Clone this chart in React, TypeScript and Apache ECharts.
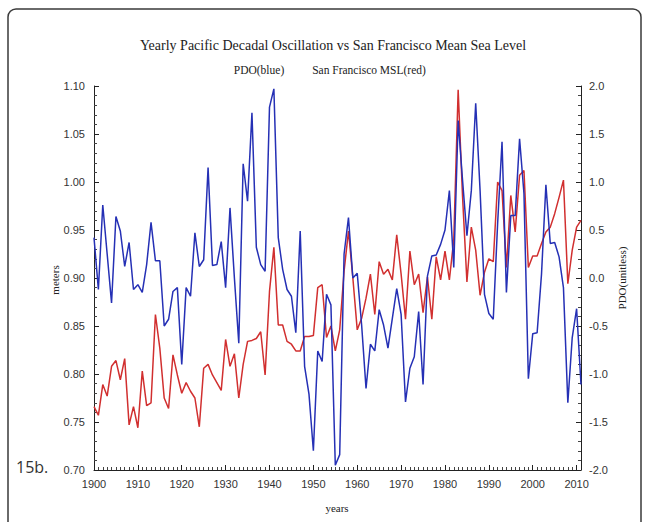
import React, { useEffect, useRef } from "react";
import * as echarts from "echarts";

// Years 1900–2011
const years: number[] = Array.from({ length: 112 }, (_, i) => 1900 + i);

// San Francisco yearly mean sea level (meters), left axis
const msl: number[] = [
  0.766, 0.757, 0.789, 0.777, 0.808, 0.814, 0.794, 0.816, 0.747, 0.766,
  0.744, 0.803, 0.767, 0.770, 0.862, 0.827, 0.775, 0.764, 0.820, 0.799,
  0.780, 0.791, 0.782, 0.775, 0.745, 0.806, 0.810, 0.799, 0.791, 0.783,
  0.836, 0.808, 0.821, 0.775, 0.810, 0.834, 0.835, 0.837, 0.844, 0.799,
  0.886, 0.932, 0.851, 0.851, 0.834, 0.831, 0.824, 0.824, 0.839, 0.839,
  0.840, 0.890, 0.893, 0.838, 0.850, 0.824, 0.846, 0.907, 0.949, 0.900,
  0.846, 0.858, 0.879, 0.904, 0.862, 0.917, 0.904, 0.909, 0.898, 0.945,
  0.904, 0.857, 0.928, 0.893, 0.904, 0.864, 0.901, 0.857, 0.922, 0.898,
  0.928, 0.898, 0.940, 1.096, 0.985, 0.896, 0.953, 0.929, 0.882, 0.906,
  0.920, 0.917, 1.000, 0.991, 0.911, 0.986, 0.948, 1.007, 1.012, 0.911,
  0.923, 0.923, 0.936, 0.948, 0.953, 0.967, 0.984, 1.002, 0.894, 0.929,
  0.953, 0.960,
];

// Yearly Pacific Decadal Oscillation index (unitless), right axis
const pdo: number[] = [
  0.42, -0.12, 0.76, 0.25, -0.26, 0.64, 0.49, 0.12, 0.37, -0.12,
  -0.07, -0.15, 0.14, 0.58, 0.18, 0.18, -0.5, -0.43, -0.14, -0.1,
  -0.9, -0.1, -0.19, 0.47, 0.12, 0.19, 1.15, 0.13, 0.14, 0.38,
  -0.1, 0.73, 0.0, -0.68, 1.19, 0.8, 1.72, 0.32, 0.14, 0.07,
  1.78, 1.97, 0.42, 0.09, -0.12, -0.19, -0.57, 0.49, -0.92, -1.21,
  -1.8, -0.76, -0.87, -0.17, -0.28, -1.95, -1.84, 0.25, 0.63, 0.0,
  0.05, -0.49, -1.15, -0.69, -0.76, -0.33, -0.49, -0.73, -0.42, -0.11,
  -0.38, -1.29, -0.94, -0.82, -0.35, -1.11, 0.02, 0.23, 0.24, 0.35,
  0.5, 0.91, 0.11, 1.64, 1.02, 0.44, 0.91, 1.82, 0.91, -0.17,
  -0.37, -0.43, 0.57, 1.42, -0.15, 0.65, 0.65, 1.45, 0.88, -1.05,
  -0.58, -0.57, 0.04, 0.97, 0.36, 0.37, 0.22, -0.1, -1.3, -0.62,
  -0.32, -1.11,
];

const TITLE = "Yearly Pacific Decadal Oscillation vs San Francisco Mean Sea Level";
const SERIF = "'Liberation Serif', 'DejaVu Serif', serif";
const SANS = "'Liberation Sans', Arial, sans-serif";

export default function App() {
  const ref = useRef<HTMLDivElement>(null);

  useEffect(() => {
    if (!ref.current) return;
    const chart = echarts.init(ref.current, undefined, { renderer: "svg" });

    const axisLine = { show: true, onZero: false, lineStyle: { color: "#222", width: 1 } };
    const labelStyle = { color: "#333", fontFamily: SANS, fontSize: 11 };

    const serifText = (text: string, x: number, y: number, size: number, rotation = 0) => ({
      type: "text",
      x,
      y,
      rotation,
      style: {
        text,
        fill: "#222",
        font: `${size}px ${SERIF}`,
        textAlign: "center",
        textVerticalAlign: "middle",
      },
    });

    chart.setOption({
      animation: false,
      backgroundColor: "#ffffff",
      grid: { left: 94, right: 68, top: 86, bottom: 52, containLabel: false },
      xAxis: {
        type: "value",
        min: 1900,
        max: 2011,
        interval: 10,
        axisLine,
        axisTick: { show: true, inside: true, length: 5, lineStyle: { color: "#222" } },
        minorTick: { show: true, splitNumber: 10, length: 3, lineStyle: { color: "#444" } },
        splitLine: { show: false },
        axisLabel: {
          ...labelStyle,
          margin: 8,
          showMaxLabel: false,
          formatter: (v: number) => (v % 10 === 0 ? String(v) : ""),
        },
      },
      yAxis: [
        {
          type: "value",
          position: "left",
          min: 0.7,
          max: 1.1,
          interval: 0.05,
          axisLine,
          axisTick: { show: true, inside: true, length: 5, lineStyle: { color: "#222" } },
          minorTick: { show: true, splitNumber: 5, length: 3, lineStyle: { color: "#444" } },
          splitLine: { show: false },
          axisLabel: { ...labelStyle, margin: 9, formatter: (v: number) => v.toFixed(2) },
        },
        {
          type: "value",
          position: "right",
          min: -2,
          max: 2,
          interval: 0.5,
          axisLine,
          axisTick: { show: true, inside: true, length: 5, lineStyle: { color: "#222" } },
          minorTick: { show: true, splitNumber: 5, length: 3, lineStyle: { color: "#444" } },
          splitLine: { show: false },
          axisLabel: { ...labelStyle, margin: 8, formatter: (v: number) => v.toFixed(1) },
        },
      ],
      series: [
        {
          name: "San Francisco MSL",
          type: "line",
          yAxisIndex: 0,
          data: years.map((y, i) => [y, msl[i]]),
          showSymbol: false,
          lineStyle: { color: "#d12f2f", width: 1.5 },
          itemStyle: { color: "#d12f2f" },
          z: 2,
        },
        {
          name: "PDO",
          type: "line",
          yAxisIndex: 1,
          data: years.map((y, i) => [y, pdo[i]]),
          showSymbol: false,
          lineStyle: { color: "#2530b5", width: 1.5 },
          itemStyle: { color: "#2530b5" },
          z: 3,
        },
      ],
      graphic: [
        {
          type: "rect",
          shape: { x: 8, y: 9, width: 633, height: 540, r: 8 },
          style: { fill: "none", stroke: "#3a3a3a", lineWidth: 1.5 },
          silent: true,
          z: -1,
        },
        serifText(TITLE, 333, 45, 14),
        serifText("PDO(blue)", 259, 70, 11.5),
        serifText("San Francisco MSL(red)", 369, 70, 11.5),
        serifText("meters", 55, 280, 11, Math.PI / 2),
        serifText("PDO(unitless)", 622, 278, 11, Math.PI / 2),
        serifText("years", 337, 508, 11),
        {
          type: "text",
          x: 16,
          y: 467,
          style: {
            text: "15b.",
            fill: "#333",
            font: `16px 'Open Sans', ${SANS}`,
            textAlign: "left",
            textVerticalAlign: "middle",
          },
        },
      ],
    });

    return () => chart.dispose();
  }, []);

  return (
    <div
      ref={ref}
      style={{ position: "fixed", left: 0, top: 0, width: 649, height: 522, background: "#fff" }}
    />
  );
}
